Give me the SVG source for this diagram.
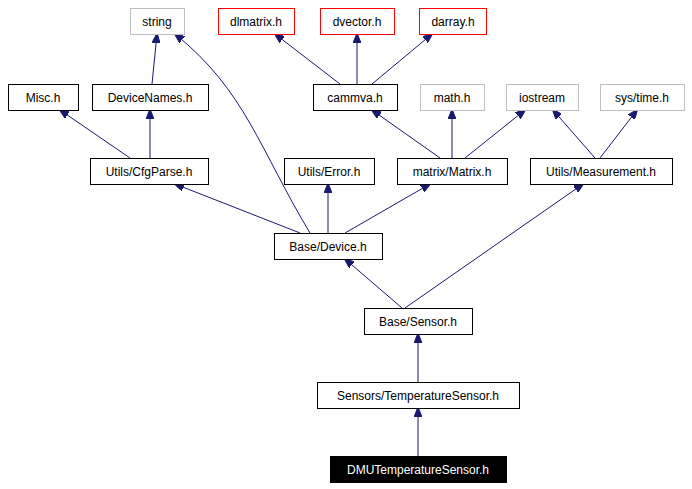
<svg xmlns="http://www.w3.org/2000/svg" width="692" height="489" viewBox="0 0 692 489">
<style>
rect{fill:#fff;stroke:#000;stroke-width:1}
.g rect{stroke:#bfbfbf}
.r rect{stroke:#f00}
text{font-family:"Liberation Sans",Arial,sans-serif;font-size:12px;text-anchor:middle}
#edges path{fill:none;stroke:#191970;stroke-width:1;marker-end:url(#a)}
</style>
<defs><marker id="a" markerWidth="10" markerHeight="8" refX="9" refY="4" orient="auto" markerUnits="userSpaceOnUse"><path d="M0,0L10,4L0,8z" fill="#191970" stroke="#191970"/></marker></defs>
<rect x="0" y="0" width="692" height="489" style="stroke:none"/>
<g id="edges">
<path d="M418,456V408"/>
<path d="M418,382V334"/>
<path d="M402,308L345,259"/>
<path d="M405,308L583,184"/>
<path d="M300,233L175,184"/>
<path d="M328,233V184"/>
<path d="M345,233L430,184"/>
<path d="M310,233C260,150 245,90 175,34"/>
<path d="M130,158L60,110"/>
<path d="M150,158V110"/>
<path d="M152,84L157,34"/>
<path d="M440,158L372,110"/>
<path d="M452,158V110"/>
<path d="M465,158L525,110"/>
<path d="M595,158L553,110"/>
<path d="M600,158L637,110"/>
<path d="M340,84L275,34"/>
<path d="M357,84V34"/>
<path d="M372,84L432,34"/>
</g>
<g id="string" class="g"><rect x="130.5" y="8.5" width="54" height="26"/><text x="157" y="26">string</text></g>
<g id="dlmatrix" class="r"><rect x="218.5" y="8.5" width="76" height="26"/><text x="256" y="26">dlmatrix.h</text></g>
<g id="dvector" class="r"><rect x="320.5" y="8.5" width="74" height="26"/><text x="357" y="26">dvector.h</text></g>
<g id="darray" class="r"><rect x="419.5" y="8.5" width="67" height="26"/><text x="453" y="26">darray.h</text></g>
<g id="misc"><rect x="8.5" y="84.5" width="70" height="26"/><text x="43" y="102">Misc.h</text></g>
<g id="devicenames"><rect x="92.5" y="84.5" width="116" height="26"/><text x="150" y="102">DeviceNames.h</text></g>
<g id="cammva"><rect x="313.5" y="84.5" width="84" height="26"/><text x="355" y="102">cammva.h</text></g>
<g id="math" class="g"><rect x="420.5" y="84.5" width="64" height="26"/><text x="452" y="102">math.h</text></g>
<g id="iostream" class="g"><rect x="506.5" y="84.5" width="72" height="26"/><text x="542" y="102">iostream</text></g>
<g id="systime" class="g"><rect x="600.5" y="84.5" width="84" height="26"/><text x="642" y="102">sys/time.h</text></g>
<g id="cfgparse"><rect x="90.5" y="158.5" width="118" height="26"/><text x="149" y="176">Utils/CfgParse.h</text></g>
<g id="error"><rect x="284.5" y="158.5" width="90" height="26"/><text x="329" y="176">Utils/Error.h</text></g>
<g id="matrix"><rect x="397.5" y="158.5" width="110" height="26"/><text x="452" y="176">matrix/Matrix.h</text></g>
<g id="measurement"><rect x="530.5" y="158.5" width="142" height="26"/><text x="601" y="176">Utils/Measurement.h</text></g>
<g id="device"><rect x="274.5" y="233.5" width="108" height="26"/><text x="328" y="251">Base/Device.h</text></g>
<g id="sensor"><rect x="364.5" y="308.5" width="108" height="26"/><text x="418" y="326">Base/Sensor.h</text></g>
<g id="tempsensor"><rect x="317.5" y="382.5" width="202" height="26"/><text x="418" y="400">Sensors/TemperatureSensor.h</text></g>
<g id="dmu"><rect x="330.5" y="456.5" width="176" height="26" style="fill:#000"/><text x="418" y="474" fill="#fff">DMUTemperatureSensor.h</text></g>
</svg>
